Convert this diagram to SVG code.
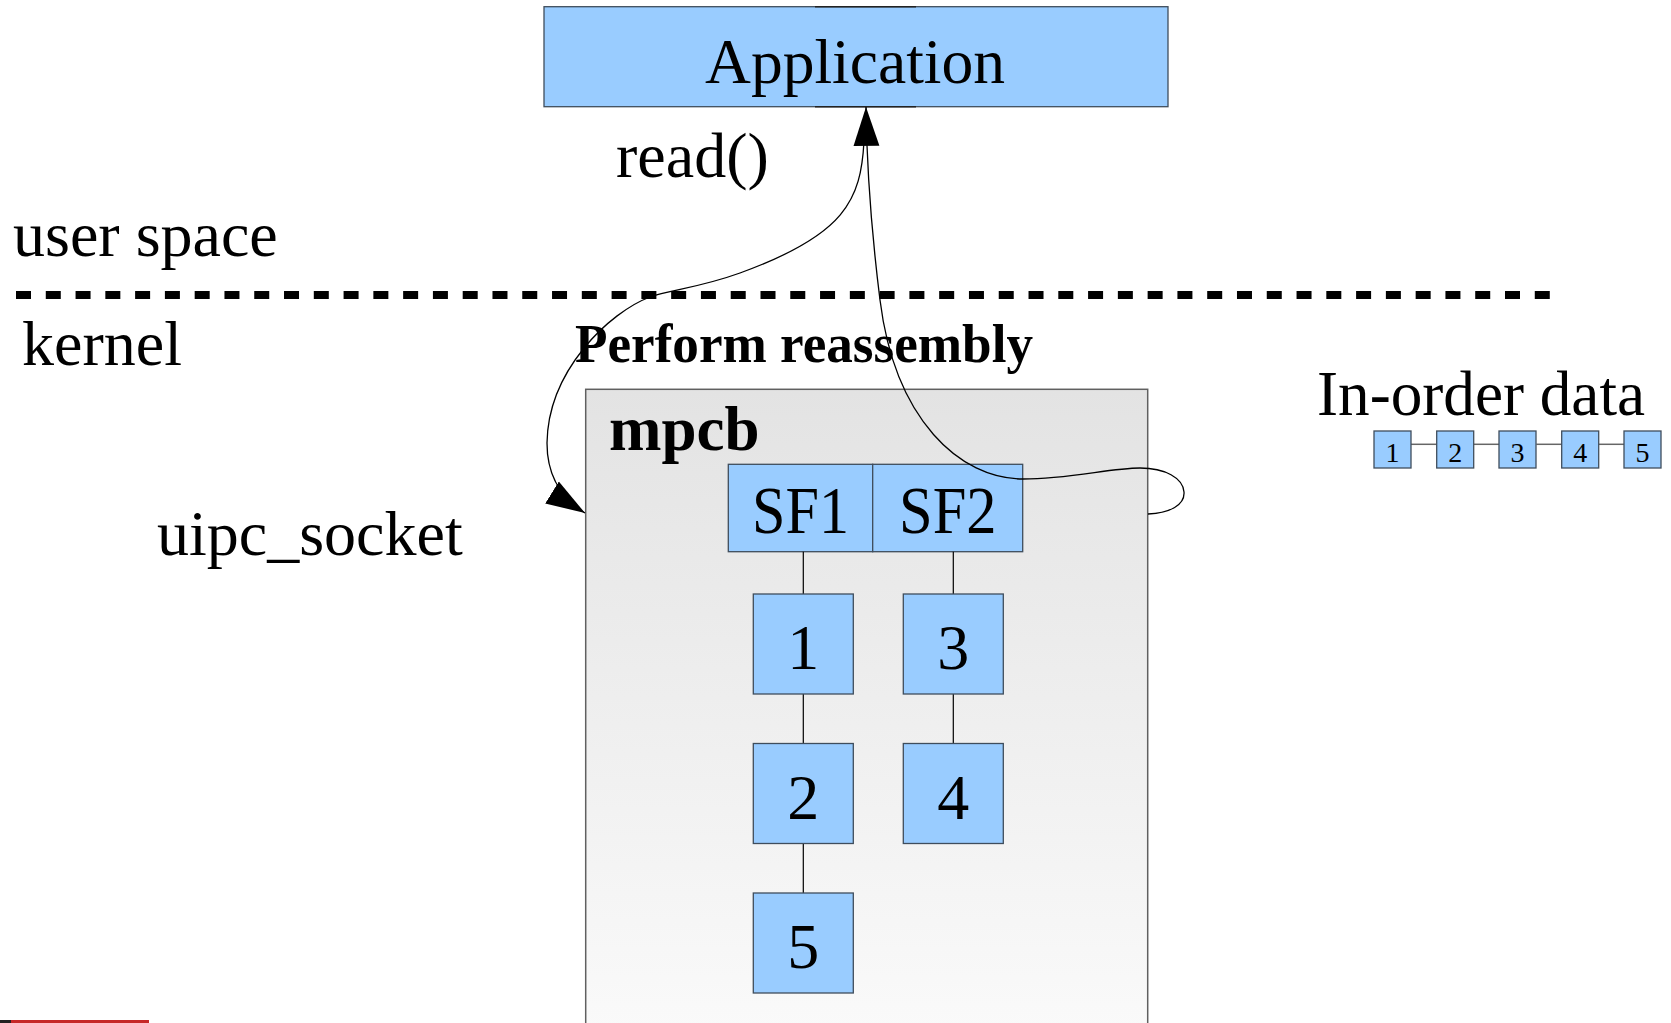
<svg xmlns="http://www.w3.org/2000/svg" width="1671" height="1023" viewBox="0 0 1671 1023">
<defs>
<style>
text{font-family:"Liberation Serif","Times New Roman",serif;fill:#000}
.t64{font-size:64px}
.b{font-weight:bold}
.node{fill:#99ccff;stroke:#3f4d5c;stroke-width:1.3}
.link{stroke:#000;stroke-width:1.2;fill:none}
.curve{stroke:#000;stroke-width:1.3;fill:none}
.small{font-size:28px}
</style>
<linearGradient id="mgrad" x1="0" y1="0" x2="0" y2="1">
<stop offset="0" stop-color="#e3e3e3"/>
<stop offset="1" stop-color="#fcfcfc"/>
</linearGradient>
<marker id="arr" markerUnits="userSpaceOnUse" markerWidth="40" markerHeight="30" viewBox="0 -12 34 24" refX="33" refY="0" orient="auto">
<path d="M0,-11 L33,0 L0,11 z" fill="#000"/>
</marker>
</defs>
<rect width="1671" height="1023" fill="#fff"/>

<g id="labels">
<text class="t64" x="616" y="177">read()</text>
<text class="t64" x="13" y="256">user space</text>
<text class="t64" x="22" y="365">kernel</text>
<text class="t64" x="157" y="555">uipc_socket</text>
<text class="b" font-size="54" x="575" y="362" textLength="458" lengthAdjust="spacingAndGlyphs">Perform reassembly</text>
<text class="t64" x="1317" y="415" textLength="328" lengthAdjust="spacingAndGlyphs">In-order data</text>
</g>

<g id="divider">
<line x1="16" y1="295" x2="1550" y2="295" stroke="#000" stroke-width="8" stroke-dasharray="15 14.78"/>
</g>

<g id="application">
<rect class="node" x="544" y="6.7" width="624" height="100"/>
<line x1="815" y1="6.7" x2="916" y2="6.7" stroke="#222" stroke-width="1.5"/>
<line x1="815" y1="106.7" x2="916" y2="106.7" stroke="#222" stroke-width="1.5"/>
<text class="t64" x="705" y="83" textLength="300" lengthAdjust="spacingAndGlyphs">Application</text>
</g>

<g id="mpcb">
<rect x="585.7" y="389.3" width="562" height="700" fill="url(#mgrad)" stroke="#606060" stroke-width="1.5"/>
<text class="b" font-size="63" x="609" y="450">mpcb</text>
</g>

<g id="sf1">
<rect class="node" x="728.3" y="464.3" width="144.4" height="87.4"/>
<text font-size="67" x="752" y="533" textLength="97" lengthAdjust="spacingAndGlyphs">SF1</text>
</g>
<g id="sf2">
<rect class="node" x="872.7" y="464.3" width="150" height="87.4"/>
<text font-size="67" x="899" y="533" textLength="97.5" lengthAdjust="spacingAndGlyphs">SF2</text>
</g>

<g id="connectors">
<line class="link" x1="803.3" y1="551.7" x2="803.3" y2="594"/>
<line class="link" x1="803.3" y1="694" x2="803.3" y2="743.5"/>
<line class="link" x1="803.3" y1="843.5" x2="803.3" y2="893"/>
<line class="link" x1="953.3" y1="551.7" x2="953.3" y2="594"/>
<line class="link" x1="953.3" y1="694" x2="953.3" y2="743.5"/>
<line x1="1411" y1="444.3" x2="1436.7" y2="444.3" stroke="#666" stroke-width="1.5"/>
<line x1="1474" y1="444.3" x2="1499" y2="444.3" stroke="#666" stroke-width="1.5"/>
<line x1="1536.3" y1="444.3" x2="1561.7" y2="444.3" stroke="#666" stroke-width="1.5"/>
<line x1="1599" y1="444.3" x2="1624" y2="444.3" stroke="#666" stroke-width="1.5"/>
<path class="curve" marker-end="url(#arr)" d="M864,141 C861,200 845,235 740,273 C700,287.5 670,290 650,297 C610,312 548,370 547,443 C547,475 560,497.5 585,513"/>
<path class="curve" marker-end="url(#arr)" d="M1148,514 C1170,513 1185,505 1184,492 C1183,478 1165,468 1140,468 C1110,468 1070,479 1023,479 C960,479 895,420 880,300 C875,260 867,190 866,107"/>
</g>

<g id="n1"><rect class="node" x="753.3" y="594" width="100" height="100"/><text class="t64" x="803.3" y="669" text-anchor="middle">1</text></g>
<g id="n2"><rect class="node" x="753.3" y="743.5" width="100" height="100"/><text class="t64" x="803.3" y="818.5" text-anchor="middle">2</text></g>
<g id="n5"><rect class="node" x="753.3" y="893" width="100" height="100"/><text class="t64" x="803.3" y="968" text-anchor="middle">5</text></g>
<g id="n3"><rect class="node" x="903.3" y="594" width="100" height="100"/><text class="t64" x="953.3" y="669" text-anchor="middle">3</text></g>
<g id="n4"><rect class="node" x="903.3" y="743.5" width="100" height="100"/><text class="t64" x="953.3" y="818.5" text-anchor="middle">4</text></g>

<g id="inorder1"><rect class="node" x="1374" y="431" width="37" height="37"/><text class="small" x="1392.5" y="462" text-anchor="middle">1</text></g>
<g id="inorder2"><rect class="node" x="1436.7" y="431" width="37" height="37"/><text class="small" x="1455.2" y="462" text-anchor="middle">2</text></g>
<g id="inorder3"><rect class="node" x="1499" y="431" width="37" height="37"/><text class="small" x="1517.5" y="462" text-anchor="middle">3</text></g>
<g id="inorder4"><rect class="node" x="1561.7" y="431" width="37" height="37"/><text class="small" x="1580.2" y="462" text-anchor="middle">4</text></g>
<g id="inorder5"><rect class="node" x="1624" y="431" width="37" height="37"/><text class="small" x="1642.5" y="462" text-anchor="middle">5</text></g>

<g id="progress">
<rect x="0" y="1020" width="11" height="3" fill="#222"/>
<rect x="11" y="1020" width="138" height="3" fill="#c62828"/>
</g>
</svg>
